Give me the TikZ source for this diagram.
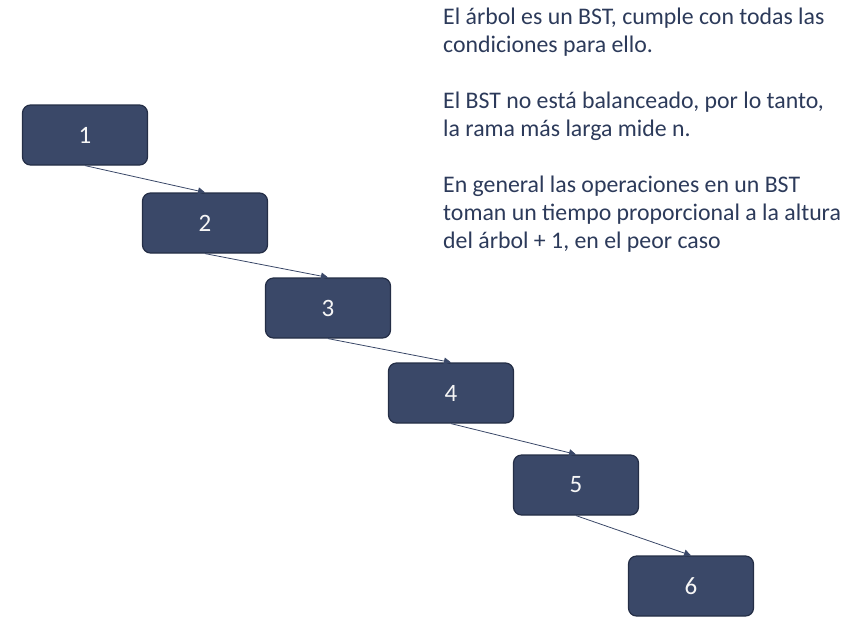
\documentclass[tikz,border=0pt]{standalone}
\usepackage{fontspec}
\setmainfont{Carlito}
\usepackage{tikz}
\usetikzlibrary{arrows.meta, positioning}
\usepackage{xcolor}
\definecolor{nodefill}{RGB}{58,72,104}
\definecolor{nodeedge}{RGB}{36,46,70}
\definecolor{notetext}{RGB}{44,58,90}
\tikzset{
  bstnode/.style={
    rectangle, rounded corners=8pt, draw=nodeedge, line width=1.2pt,
    fill=nodefill, minimum width=125pt, minimum height=60pt,
    align=center, text=white!93!gray, font=\fontsize{25}{28}\selectfont
  },
  link/.style={-{Triangle[length=7pt,width=7pt]}, line width=0.8pt, draw=nodefill},
  note/.style={
    anchor=north west, align=left, text=notetext, inner sep=0pt,
    font=\fontsize{23.8}{28}\selectfont
  }
}
\begin{document}
\begin{tikzpicture}[x=1pt, y=-1pt]
\useasboundingbox (0,0) rectangle (848,622);

% Nodes of the degenerate tree
\node[bstnode] (n1) at (85,135) {1};
\node[bstnode] (n2) at (205,223) {2};
\node[bstnode] (n3) at (328,308) {3};
\node[bstnode] (n4) at (451,393) {4};
\node[bstnode] (n5) at (576,485) {5};
\node[bstnode] (n6) at (691,586) {6};

% Right branches
\draw[link] (n1.south) -- (n2.north);
\draw[link] (n2.south) -- (n3.north);
\draw[link] (n3.south) -- (n4.north);
\draw[link] (n4.south) -- (n5.north);
\draw[link] (n5.south) -- (n6.north);

% Notes
\node[note] (txt) at (443,8) {El árbol es un BST, cumple con todas las\\
  condiciones para ello.\\[28pt]
  El BST no está balanceado, por lo tanto,\\
  la rama más larga mide n.\\[28pt]
  En general las operaciones en un BST\\
  toman un tiempo proporcional a la altura\\
  del árbol + 1, en el peor caso};

\end{tikzpicture}
\end{document}
